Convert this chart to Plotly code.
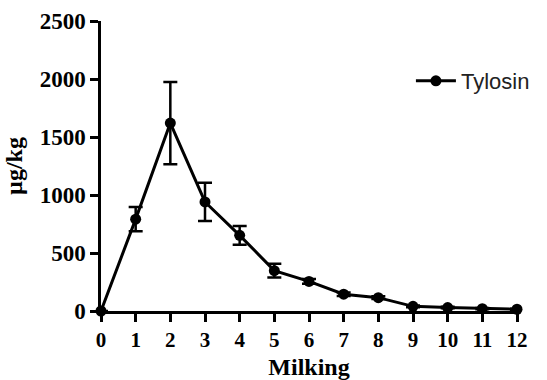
import plotly.graph_objects as go

milking = [0, 1, 2, 3, 4, 5, 6, 7, 8, 9, 10, 11, 12]
tylosin = [0, 792, 1620, 940, 652, 348, 255, 145, 115, 40, 30, 20, 15]
tylosin_err = [0, 105, 355, 165, 80, 60, 20, 15, 12, 8, 6, 5, 4]
x_ticks = list(range(0, 13))
y_ticks = [0, 500, 1000, 1500, 2000, 2500]

fig = go.Figure()
fig.add_trace(go.Scatter(
    x=milking, y=tylosin, name="Tylosin", mode="lines+markers",
    line=dict(color="black", width=3),
    marker=dict(color="black", size=11, symbol="circle"),
    error_y=dict(type="data", array=tylosin_err, visible=True,
                 color="black", thickness=2.5, width=7),
    cliponaxis=False,
))

serif = "Liberation Serif"
fig.update_layout(
    width=547, height=380,
    margin=dict(l=101, r=14, t=21, b=69),
    plot_bgcolor="white", paper_bgcolor="white",
    showlegend=True,
    legend=dict(x=0.745, y=0.793, xanchor="left", yanchor="middle",
                font=dict(family="Liberation Sans", size=22, color="#222"),
                bgcolor="rgba(0,0,0,0)", itemwidth=40),
    xaxis=dict(range=[0, 12], tickvals=x_ticks, ticktext=[str(t) for t in x_ticks],
               showgrid=False, zeroline=False, showline=True, linecolor="black",
               linewidth=2.5, ticks="outside", ticklen=8, tickwidth=2.5,
               tickcolor="black", ticklabelstandoff=0, automargin=False,
               tickfont=dict(family=serif, size=21, color="black", weight="bold"),
               title=dict(text="<b>Milking</b>", font=dict(family=serif, size=24, color="black"),
                          standoff=17)),
    yaxis=dict(range=[0, 2500], tickvals=y_ticks, ticktext=[str(t) for t in y_ticks],
               showgrid=False, zeroline=False, showline=True, linecolor="black",
               linewidth=2.5, ticks="outside", ticklen=8, tickwidth=2.5,
               tickcolor="black", automargin=False,
               tickfont=dict(family=serif, size=23, color="black", weight="bold"),
               title=dict(text="<b>µg/kg</b>", font=dict(family=serif, size=24, color="black"),
                          standoff=11)),
)
fig.write_html("out.html")
